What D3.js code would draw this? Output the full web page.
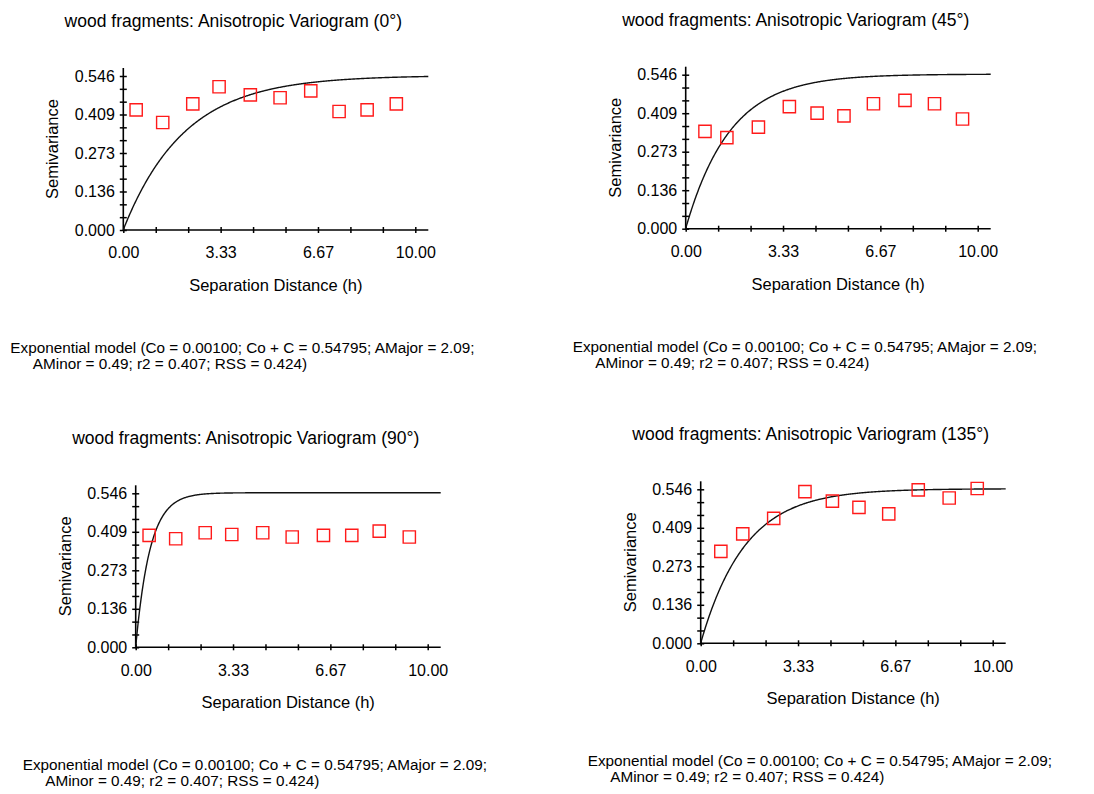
<!DOCTYPE html>
<html>
<head>
<meta charset="utf-8">
<script src="https://cdn.jsdelivr.net/npm/d3@7/dist/d3.min.js"></script>
<style>
  html, body { margin: 0; padding: 0; background: #ffffff; }
  svg { display: block; }
  text { font-family: "Liberation Sans", Arial, sans-serif; fill: #000; }
</style>
</head>
<body>
<svg id="chart" width="1094" height="794"></svg>
<script>
// ---------------- data ----------------
const directions = [0, 45, 90, 135];
const titles = [
  "wood fragments: Anisotropic Variogram (0°)",
  "wood fragments: Anisotropic Variogram (45°)",
  "wood fragments: Anisotropic Variogram (90°)",
  "wood fragments: Anisotropic Variogram (135°)"
];
const lags0 = [0.44, 1.35, 2.38, 3.28, 4.35, 5.37, 6.42, 7.39, 8.35, 9.35];
const gamma0 = [0.426, 0.381, 0.447, 0.508, 0.479, 0.469, 0.493, 0.420, 0.426, 0.447];
const lags45 = [0.66, 1.41, 2.49, 3.55, 4.50, 5.42, 6.43, 7.51, 8.52, 9.48];
const gamma45 = [0.345, 0.323, 0.360, 0.433, 0.410, 0.400, 0.443, 0.455, 0.443, 0.389];
const lags90 = [0.46, 1.37, 2.38, 3.29, 4.35, 5.36, 6.43, 7.40, 8.34, 9.37];
const gamma90 = [0.397, 0.385, 0.406, 0.400, 0.406, 0.391, 0.397, 0.397, 0.412, 0.391];
const lags135 = [0.69, 1.44, 2.50, 3.57, 4.51, 5.42, 6.44, 7.45, 8.51, 9.47];
const gamma135 = [0.326, 0.388, 0.443, 0.538, 0.504, 0.482, 0.459, 0.544, 0.515, 0.549];

// model parameters (as printed on the chart)
const nugget = 0.00100;
const sill = 0.54795;
const aMajor = 2.09;
const aMinor = 0.49;

const xTickLabels = ["0.00", "3.33", "6.67", "10.00"];
const yTickLabels = ["0.000", "0.136", "0.273", "0.409", "0.546"];
const footLine1 = "Exponential model (Co = 0.00100; Co + C = 0.54795; AMajor = 2.09;";
const footLine2 = "AMinor = 0.49; r2 = 0.407; RSS = 0.424)";
const xTitle = "Separation Distance (h)";
const yTitle = "Semivariance";

const lagSets = [lags0, lags45, lags90, lags135];
const gammaSets = [gamma0, gamma45, gamma90, gamma135];

// ---------------- layout ----------------
const origins = [
  { ox: 123.3, oy: 230.0 },
  { ox: 685.7, oy: 228.7 },
  { ox: 135.7, oy: 647.3 },
  { ox: 700.7, oy: 643.3 }
];
const plotW = 292, plotH = 154, axisExtX = 305, axisExtY = 162;
const xMax = 10, yMax = 0.546;

const svg = d3.select("#chart");

directions.forEach((dir, i) => {
  const { ox, oy } = origins[i];
  const g = svg.append("g");
  const x = d3.scaleLinear().domain([0, xMax]).range([ox, ox + plotW]);
  const y = d3.scaleLinear().domain([0, yMax]).range([oy, oy - plotH]);

  // title
  g.append("text")
    .attr("x", ox + 110).attr("y", oy - 209)
    .attr("text-anchor", "middle").attr("dominant-baseline", "central")
    .style("font-size", "17.5px")
    .text(titles[i]);

  // x axis
  const xTicks = d3.range(10).map(k => k * xMax / 9);
  const xAxis = d3.axisBottom(x)
    .tickValues(xTicks)
    .tickSize(3)
    .tickPadding(14)
    .tickFormat((d, k) => (k % 3 === 0 ? xTickLabels[k / 3] : ""));
  const gx = g.append("g").attr("transform", `translate(0,${oy})`).call(xAxis);
  gx.select(".domain").remove();
  gx.selectAll(".tick line").attr("y1", -3).attr("y2", 3).attr("stroke", "#000").attr("stroke-width", 1.5);
  gx.selectAll(".tick text").style("font-size", "16px").attr("fill", "#000");

  // y axis
  const yTicks = d3.range(13).map(k => k * yMax / 12);
  const yAxis = d3.axisLeft(y)
    .tickValues(yTicks)
    .tickSize(3.5)
    .tickPadding(5)
    .tickFormat((d, k) => (k % 3 === 0 ? yTickLabels[k / 3] : ""));
  const gy = g.append("g").attr("transform", `translate(${ox},0)`).call(yAxis);
  gy.select(".domain").remove();
  gy.selectAll(".tick line").attr("x1", -3.5).attr("x2", 3.5).attr("stroke", "#000").attr("stroke-width", 1.5);
  gy.selectAll(".tick text").style("font-size", "16px").attr("fill", "#000");

  // axis lines
  g.append("line").attr("x1", ox).attr("x2", ox + axisExtX).attr("y1", oy).attr("y2", oy)
    .attr("stroke", "#000").attr("stroke-width", 1.6);
  g.append("line").attr("x1", ox).attr("x2", ox).attr("y1", oy + 1).attr("y2", oy - axisExtY)
    .attr("stroke", "#000").attr("stroke-width", 1.6);

  // axis titles
  g.append("text")
    .attr("x", ox + axisExtX / 2).attr("y", oy + 55)
    .attr("text-anchor", "middle").attr("dominant-baseline", "central")
    .style("font-size", "16.5px")
    .text(xTitle);
  g.append("text")
    .attr("transform", `translate(${ox - 71},${oy - axisExtY / 2}) rotate(-90)`)
    .attr("text-anchor", "middle").attr("dominant-baseline", "central")
    .style("font-size", "16.5px")
    .text(yTitle);

  // model curve: exponential model with direction-dependent range
  const th = dir * Math.PI / 180;
  const range = Math.sqrt(Math.pow(aMajor * Math.cos(th), 2) + Math.pow(aMinor * Math.sin(th), 2));
  const hEnd = x.invert(ox + axisExtX);
  const hs = d3.range(0, hEnd, 0.02).concat([hEnd]);
  const model = hs.map(h => [h, nugget + (sill - nugget) * (1 - Math.exp(-h / range))]);
  g.append("path")
    .datum(model)
    .attr("fill", "none").attr("stroke", "#111").attr("stroke-width", 1.4)
    .attr("d", d3.line().x(d => x(d[0])).y(d => y(d[1])));

  // empirical semivariance points
  const pts = lagSets[i].map((h, k) => [h, gammaSets[i][k]]);
  g.selectAll("path.pt").data(pts).enter().append("path")
    .attr("class", "pt")
    .attr("transform", d => `translate(${x(d[0])},${y(d[1])})`)
    .attr("d", d3.symbol().type(d3.symbolSquare).size(150))
    .attr("fill", "none").attr("stroke", "#ff1a1a").attr("stroke-width", 1.4);

  // footnote
  const fx = ox - 113, fy = oy + 117.5;
  g.append("text").attr("x", fx).attr("y", fy).attr("dominant-baseline", "central")
    .style("font-size", "15.3px").text(footLine1);
  g.append("text").attr("x", fx + 22.5).attr("y", fy + 16).attr("dominant-baseline", "central")
    .style("font-size", "15.3px").text(footLine2);
});
</script>
</body>
</html>
